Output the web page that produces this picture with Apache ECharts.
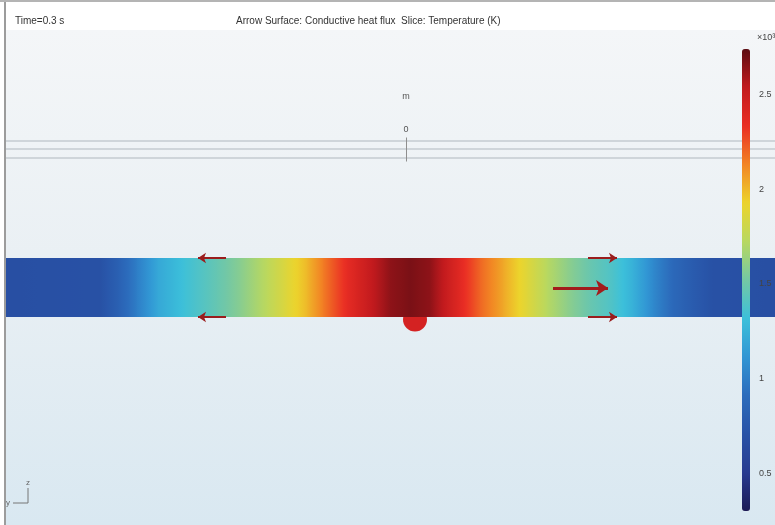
<!DOCTYPE html>
<html>
<head>
<meta charset="utf-8">
<script src="https://cdn.jsdelivr.net/npm/echarts@6/dist/echarts.min.js"></script>
<style>html,body{margin:0;padding:0;background:#fff}#c{width:775px;height:525px}</style>
</head>
<body>
<div id="c"></div>
<script>
// ---- data ----
// position along the rod (display units) and temperature (x10^3 K)
const bandX = [-40, -30.6, -28.8, -26.9, -24.8, -22.1, -18.9, -16.6, -13.9, -11.9, -9.9, -8.3, -5.9, -3.9, -1.6, 0.4, 2.4, 4.1, 5.4, 7.4, 9.7, 12.1, 14.1, 16.1, 18.4, 20.7, 22.7, 24.7, 26.7, 29.1, 30.7, 36.9];
const bandT = [0.68, 0.70, 0.82, 1.0, 1.2, 1.33, 1.47, 1.58, 1.74, 1.87, 2.0, 2.15, 2.36, 2.5, 2.64, 2.68, 2.64, 2.5, 2.38, 2.2, 2.04, 1.87, 1.72, 1.6, 1.48, 1.38, 1.24, 1.05, 0.88, 0.76, 0.70, 0.68];
const bandHalf = 2.95;
// heat flux arrows: start and end points
const arrowFrom = [[-18.0, 2.95], [-18.0, -2.95], [18.2, 2.95], [18.2, -2.95]];
const arrowTo   = [[-20.8, 2.95], [-20.8, -2.95], [21.1, 2.95], [21.1, -2.95]];
const bigArrowFrom = [14.7, -0.05];
const bigArrowTo = [20.2, -0.05];
const spotPoint = [[0.9, -3.2]];
// ruler lines
const rulerY = [14.65, 13.85, 13.0];
const tickSeg = [[0, 15.0], [0, 12.6]];
// colour bar
const tMin = 0.3, tMax = 2.74;
const barTicks = [0.5, 1, 1.5, 2, 2.5];
const cmap = ['#1c1a55', '#283a90', '#2852a6', '#2c6cbc', '#3196d4', '#3cc0da', '#74c8a4', '#b8d860', '#ecd42c', '#f28424', '#ea2e24', '#c21a1e', '#5c0c12'];
const titleLeft = 'Time=0.3 s';
const titleMain = 'Arrow Surface: Conductive heat flux  Slice: Temperature (K)';

const segs = bandX.slice(0, -1).map((x, i) => [x, bandX[i + 1], bandT[i], bandT[i + 1]]);
const font = 'Liberation Sans, Arial, sans-serif';

const chart = echarts.init(document.getElementById('c'), null, {renderer: 'canvas'});
const option = {
  animation: false,
  backgroundColor: '#ffffff',
  title: [
    {text: titleLeft, left: 10, top: 11, textStyle: {fontSize: 10, fontWeight: 'normal', color: '#333', fontFamily: font}},
    {text: titleMain, left: 231, top: 11, textStyle: {fontSize: 10, fontWeight: 'normal', color: '#333', fontFamily: font}}
  ],
  grid: [
    {left: 6, right: 0, top: 30, bottom: 0, show: true, borderWidth: 0,
     backgroundColor: new echarts.graphic.LinearGradient(0, 0, 0, 1, [
       {offset: 0, color: '#f4f6f8'}, {offset: 0.45, color: '#eaf0f4'}, {offset: 1, color: '#d9e8f1'}])},
    {left: 742, top: 49, width: 8, height: 462}
  ],
  xAxis: [
    {type: 'value', min: -40, max: 36.9, show: false, gridIndex: 0},
    {type: 'value', min: 0, max: 1, show: false, gridIndex: 1}
  ],
  yAxis: [
    {type: 'value', min: -23.75, max: 25.75, show: false, gridIndex: 0},
    {type: 'value', min: tMin, max: tMax, gridIndex: 1, position: 'right', z: 10,
     axisLine: {show: false}, axisTick: {show: false}, splitLine: {show: false},
     axisLabel: {customValues: barTicks, margin: 9, fontSize: 9, color: '#444', fontFamily: font,
                 formatter: v => String(v)}}
  ],
  visualMap: {
    type: 'continuous', min: tMin, max: tMax, seriesIndex: 0, dimension: 2,
    inRange: {color: cmap}, left: 742, top: 49, itemWidth: 8, itemHeight: 462,
    padding: 0, calculable: false, hoverLink: false, text: null, showLabel: false
  },
  series: [
    {
      type: 'custom', xAxisIndex: 0, yAxisIndex: 0, data: segs, encode: {x: [0, 1]}, z: 2,
      renderItem: function (params, api) {
        const x0 = api.value(0), x1 = api.value(1), t0 = api.value(2), t1 = api.value(3);
        const p0 = api.coord([x0, bandHalf]);
        const p1 = api.coord([x1, -bandHalf]);
        const stops = [];
        for (let k = 0; k <= 6; k++) {
          const f = k / 6, t = t0 + (t1 - t0) * f;
          stops.push({offset: f, color: echarts.color.lerp((t - tMin) / (tMax - tMin), cmap)});
        }
        return {type: 'rect', shape: {x: p0[0], y: p0[1], width: p1[0] - p0[0] + 0.6, height: p1[1] - p0[1]},
                style: {fill: new echarts.graphic.LinearGradient(0, 0, 1, 0, stops)}};
      }
    },
    {
      type: 'lines', coordinateSystem: 'cartesian2d', xAxisIndex: 0, yAxisIndex: 0, z: 1, silent: true,
      lineStyle: {color: '#cfd5da', width: 2, opacity: 1},
      data: rulerY.map(y => ({coords: [[-40, y], [36.9, y]]}))
    },
    {
      type: 'lines', coordinateSystem: 'cartesian2d', xAxisIndex: 0, yAxisIndex: 0, z: 1, silent: true,
      lineStyle: {color: '#8e8e8e', width: 1, opacity: 1},
      data: [{coords: tickSeg}]
    },
    {
      type: 'scatter', xAxisIndex: 0, yAxisIndex: 0, data: spotPoint, symbolSize: 24, z: 1,
      itemStyle: {color: '#d42222', opacity: 1}, silent: true
    },
    {
      type: 'lines', coordinateSystem: 'cartesian2d', xAxisIndex: 0, yAxisIndex: 0, z: 4, silent: true,
      symbol: ['none', 'arrow'], symbolSize: 8,
      lineStyle: {color: '#9a1c1c', width: 2, opacity: 1},
      data: arrowFrom.map((p, i) => ({coords: [p, arrowTo[i]]}))
    },
    {
      type: 'lines', coordinateSystem: 'cartesian2d', xAxisIndex: 0, yAxisIndex: 0, z: 4, silent: true,
      symbol: ['none', 'arrow'], symbolSize: 12,
      lineStyle: {color: '#a21c1c', width: 3, opacity: 1},
      data: [{coords: [bigArrowFrom, bigArrowTo]}]
    }
  ],
  graphic: [
    {type: 'line', shape: {x1: 5, y1: 0, x2: 5, y2: 525}, style: {stroke: '#9c9c9c', lineWidth: 2}, z: 100},
    {type: 'line', shape: {x1: 0, y1: 1, x2: 775, y2: 1}, style: {stroke: '#b4b4b4', lineWidth: 2}, z: 100},
    {type: 'text', x: 406, y: 97, style: {text: 'm', fontSize: 9, fill: '#555', align: 'center', verticalAlign: 'middle', fontFamily: font}},
    {type: 'text', x: 406, y: 130, style: {text: '0', fontSize: 9, fill: '#555', align: 'center', verticalAlign: 'middle', fontFamily: font}},
    {type: 'text', x: 757, y: 38, style: {text: '×10³', fontSize: 9, fill: '#444', align: 'left', verticalAlign: 'middle', fontFamily: font}},
    {type: 'text', x: 28, y: 483, style: {text: 'z', fontSize: 8, fill: '#666', align: 'center', verticalAlign: 'middle', fontFamily: font}},
    {type: 'text', x: 8, y: 503, style: {text: 'y', fontSize: 8, fill: '#666', align: 'center', verticalAlign: 'middle', fontFamily: font}},
    {type: 'line', shape: {x1: 28, y1: 488, x2: 28, y2: 503}, style: {stroke: '#777', lineWidth: 1}},
    {type: 'line', shape: {x1: 13, y1: 503, x2: 28, y2: 503}, style: {stroke: '#777', lineWidth: 1}}
  ]
};
chart.setOption(option);
</script>
</body>
</html>
